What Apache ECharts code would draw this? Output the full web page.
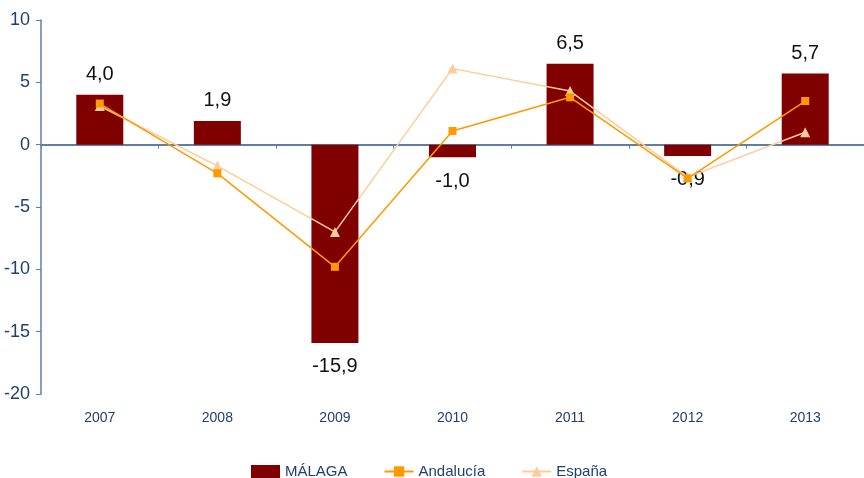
<!DOCTYPE html>
<html>
<head>
<meta charset="utf-8">
<script src="https://cdn.jsdelivr.net/npm/echarts@6/dist/echarts.min.js"></script>
<style>
  html, body { margin: 0; padding: 0; background: #fff; }
  #chart { width: 864px; height: 478px; }
</style>
</head>
<body>
<div id="chart"></div>
<script>
const years = ['2007', '2008', '2009', '2010', '2011', '2012', '2013']
const malaga = [4.0, 1.9, -15.9, -1.0, 6.5, -0.9, 5.7]
const andalucia = [3.3, -2.3, -9.8, 1.1, 3.8, -2.7, 3.5]
const espana = [3.1, -1.7, -7.0, 6.1, 4.3, -2.6, 1.0]

const FONT = '"Liberation Sans Narrow", "Liberation Sans", Arial, sans-serif'
const BLUE_TXT = '#1f3f6e'
const AXIS = '#5f7ea6'

const fmt = v => v.toFixed(1).replace('.', ',')

const chart = echarts.init(document.getElementById('chart'))

chart.setOption({
  animation: false,
  grid: { left: 41, right: -3, top: 20, bottom: 84, containLabel: false },
  legend: {
    top: 459,
    left: 246,
    itemWidth: 29,
    itemHeight: 13,
    itemGap: 36,
    textStyle: { fontFamily: FONT, fontSize: 15, color: BLUE_TXT },
    data: [
      { name: 'MÁLAGA', icon: 'rect' },
      { name: 'Andalucía' },
      { name: 'España' },
    ],
  },
  xAxis: [
    {
      type: 'category',
      data: years,
      position: 'bottom',
      axisLine: { show: false, onZero: false },
      axisTick: { show: false },
      axisLabel: { fontFamily: FONT, fontSize: 14, color: BLUE_TXT, margin: 17 },
    },
    {
      type: 'category',
      data: years,
      position: 'top',
      axisLine: { onZero: true, lineStyle: { color: AXIS, width: 2 } },
      axisTick: { show: true, inside: true, length: 4, lineStyle: { color: AXIS } },
      axisLabel: { show: false },
    },
  ],
  yAxis: {
    type: 'value',
    min: -20,
    max: 10,
    interval: 5,
    splitLine: { show: false },
    axisLine: { show: true, lineStyle: { color: AXIS, width: 1.5 } },
    axisTick: { show: true, length: 5, lineStyle: { color: AXIS } },
    axisLabel: { fontFamily: FONT, fontSize: 18, color: BLUE_TXT, margin: 11 },
  },
  series: [
    {
      name: 'MÁLAGA',
      type: 'bar',
      barWidth: 47,
      itemStyle: { color: '#800000' },
      data: malaga.map(v => ({
        value: v,
        label: v >= 0 ? { position: 'top', distance: 10 } : { position: 'bottom', distance: 14 },
      })),
      label: {
        show: true,
        fontFamily: FONT,
        fontSize: 20,
        color: '#111',
        formatter: p => fmt(p.value),
      },
      z: 1,
    },
    {
      name: 'Andalucía',
      type: 'line',
      data: andalucia,
      symbol: 'rect',
      symbolSize: 8,
      itemStyle: { color: '#ff9900' },
      lineStyle: { color: '#ff9900', width: 1.5 },
      z: 3,
    },
    {
      name: 'España',
      type: 'line',
      data: espana,
      symbol: 'triangle',
      symbolSize: 10,
      itemStyle: { color: '#ffcc99' },
      lineStyle: { color: '#ffcc99', width: 1.5 },
      z: 2,
    },
  ],
})
</script>
</body>
</html>
